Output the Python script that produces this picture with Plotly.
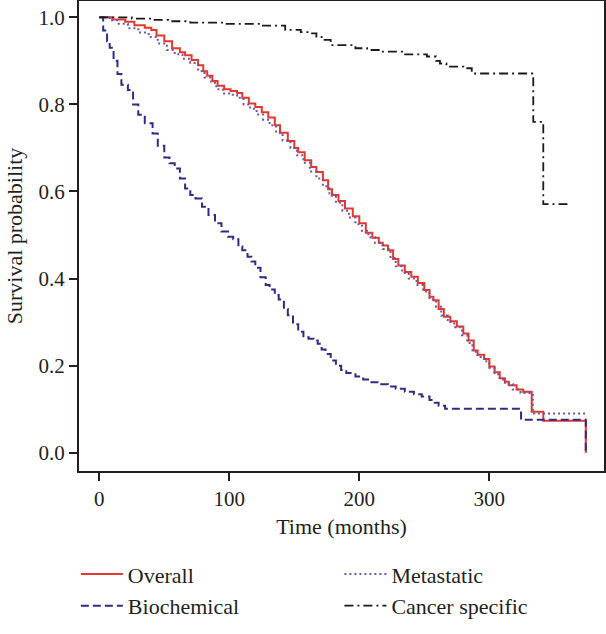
import plotly.graph_objects as go

# ---- data ----
overall_t = [0, 10, 20, 27, 35, 40, 44, 50, 56, 62, 66, 71, 76, 80, 83, 87, 91, 96, 101, 106,
             110, 115, 120, 125, 130, 135, 139, 145, 150, 153, 158, 163, 167, 172, 176, 179, 184,
             189, 195, 200, 205, 210, 215, 218, 222, 226, 230, 235, 240, 245, 250, 254, 257, 261,
             265, 270, 275, 280, 284, 288, 291, 296, 300, 304, 308, 312, 315, 321, 326, 332.6,
             341.5, 374.2]
overall_s = [1.0, 0.995, 0.99, 0.982, 0.976, 0.971, 0.958, 0.945, 0.929, 0.92, 0.913, 0.902,
             0.89, 0.876, 0.866, 0.854, 0.843, 0.835, 0.831, 0.826, 0.815, 0.802, 0.794, 0.782,
             0.77, 0.752, 0.735, 0.716, 0.70, 0.69, 0.672, 0.656, 0.645, 0.626, 0.605, 0.592,
             0.578, 0.561, 0.543, 0.527, 0.505, 0.494, 0.482, 0.476, 0.465, 0.445, 0.43, 0.415,
             0.404, 0.39, 0.374, 0.358, 0.35, 0.33, 0.312, 0.302, 0.29, 0.274, 0.258, 0.235,
             0.225, 0.215, 0.198, 0.185, 0.171, 0.163, 0.155, 0.145, 0.14, 0.094, 0.0735, 0.0]

biochem_t = [0, 3, 6, 8, 11, 14, 17, 22, 26, 30, 35, 41, 45, 50, 54, 58, 62, 66, 70, 74, 79, 84,
             89, 94, 99, 103, 107, 110, 114, 117, 120, 124, 128, 131, 135, 138, 142, 145, 149,
             153, 157, 161, 165, 168, 171, 174, 178, 182, 186, 190, 197, 203, 208, 215, 222, 228,
             235, 242, 248, 254, 258, 261, 266, 324.4, 374.2]
biochem_s = [1.0, 0.97, 0.945, 0.93, 0.90, 0.87, 0.845, 0.833, 0.80, 0.776, 0.757, 0.733, 0.705,
             0.678, 0.665, 0.653, 0.63, 0.607, 0.592, 0.584, 0.565, 0.546, 0.527, 0.508, 0.496,
             0.49, 0.474, 0.465, 0.45, 0.439, 0.425, 0.403, 0.385, 0.375, 0.362, 0.352, 0.33,
             0.316, 0.295, 0.278, 0.265, 0.262, 0.258, 0.25, 0.237, 0.227, 0.212, 0.2, 0.19,
             0.183, 0.175, 0.168, 0.162, 0.157, 0.152, 0.147, 0.14, 0.134, 0.129, 0.121, 0.115,
             0.108, 0.101, 0.0755, 0.0]

metast_t = [0, 8, 15, 22, 30, 38, 45, 52, 58, 64, 70, 76, 81, 86, 90, 95, 101, 106, 111, 116,
            121, 126, 131, 136, 141, 147, 152, 157, 162, 167, 172, 177, 182, 187, 192, 197, 202,
            207, 212, 218, 224, 228, 233, 238, 244, 249, 254, 259, 263, 268, 273, 279, 283, 287,
            291, 296, 300, 304, 308, 312, 318, 324, 333.5, 374.2]
metast_s = [1.0, 0.993, 0.985, 0.975, 0.965, 0.955, 0.94, 0.925, 0.915, 0.905, 0.895, 0.877,
            0.862, 0.85, 0.835, 0.825, 0.822, 0.815, 0.80, 0.79, 0.777, 0.765, 0.752, 0.735,
            0.717, 0.70, 0.683, 0.666, 0.646, 0.63, 0.612, 0.59, 0.574, 0.556, 0.54, 0.525,
            0.51, 0.495, 0.482, 0.468, 0.447, 0.428, 0.413, 0.40, 0.385, 0.37, 0.352, 0.335,
            0.315, 0.30, 0.288, 0.27, 0.252, 0.232, 0.22, 0.21, 0.195, 0.18, 0.168, 0.158,
            0.145, 0.137, 0.09, 0.09]

cancer_t = [0, 25, 40, 53, 70, 97, 124, 143, 155, 161, 167, 171, 178, 197, 206, 217, 234, 252,
            259, 262, 267, 280, 286.5, 333.8, 341.5, 360.8]
cancer_s = [1.0, 0.997, 0.994, 0.991, 0.988, 0.985, 0.981, 0.971, 0.966, 0.963, 0.955, 0.948,
            0.936, 0.929, 0.925, 0.921, 0.915, 0.91, 0.90, 0.894, 0.887, 0.883, 0.871, 0.76,
            0.571, 0.571]

x_ticks = [0, 100, 200, 300]
y_ticks = [0.0, 0.2, 0.4, 0.6, 0.8, 1.0]
y_tick_labels = ["0.0", "0.2", "0.4", "0.6", "0.8", "1.0"]

FONT = "Liberation Serif"
TXT = "#231f20"

fig = go.Figure()
fig.add_trace(go.Scatter(x=overall_t, y=overall_s, mode="lines", name="Overall",
                         line=dict(color="#E2382D", width=2, shape="hv"), legend="legend"))
fig.add_trace(go.Scatter(x=biochem_t, y=biochem_s, mode="lines", name="Biochemical",
                         line=dict(color="#2E2C84", width=2, shape="hv", dash="8px,4px"),
                         legend="legend"))
fig.add_trace(go.Scatter(x=metast_t, y=metast_s, mode="lines", name="Metastatic",
                         line=dict(color="#7552A6", width=2, shape="hv", dash="2px,3px"),
                         legend="legend2"))
fig.add_trace(go.Scatter(x=cancer_t, y=cancer_s, mode="lines", name="Cancer specific",
                         line=dict(color="#1a1a1a", width=1.8, shape="hv",
                                   dash="9px,4px,2px,4px"),
                         legend="legend2"))

axis_common = dict(showgrid=False, zeroline=False, showline=True, linecolor="#231f20",
                   linewidth=2, mirror=True, ticks="outside", ticklen=8, tickwidth=1.5,
                   tickcolor="#231f20", automargin=False,
                   tickfont=dict(family=FONT, size=21, color=TXT))

fig.update_xaxes(range=[-15.6, 388.2], tickvals=x_ticks,
                 title=dict(text="Time (months)", font=dict(family=FONT, size=22, color=TXT),
                            standoff=8),
                 **axis_common)
fig.update_yaxes(range=[-0.042, 1.0375], tickvals=y_ticks, ticktext=y_tick_labels,
                 title=dict(text="Survival probability", font=dict(family=FONT, size=22, color=TXT),
                            standoff=10),
                 **axis_common)

legend_common = dict(font=dict(family=FONT, size=22, color=TXT), bgcolor="rgba(0,0,0,0)",
                     orientation="v", itemwidth=42, tracegroupgap=0, yanchor="top",
                     xanchor="left", itemclick=False)
fig.update_layout(
    width=606, height=634,
    margin=dict(l=79, r=2, t=1, b=163, autoexpand=False),
    plot_bgcolor="white", paper_bgcolor="white",
    legend=dict(x=-0.006, y=-0.175, **legend_common),
    legend2=dict(x=0.496, y=-0.175, **legend_common),
    font=dict(family=FONT, color=TXT),
)

fig.write_html("out.html",
               config={"displayModeBar": False},
               post_script="document.body.style.margin='0';document.body.style.overflow='hidden';")
